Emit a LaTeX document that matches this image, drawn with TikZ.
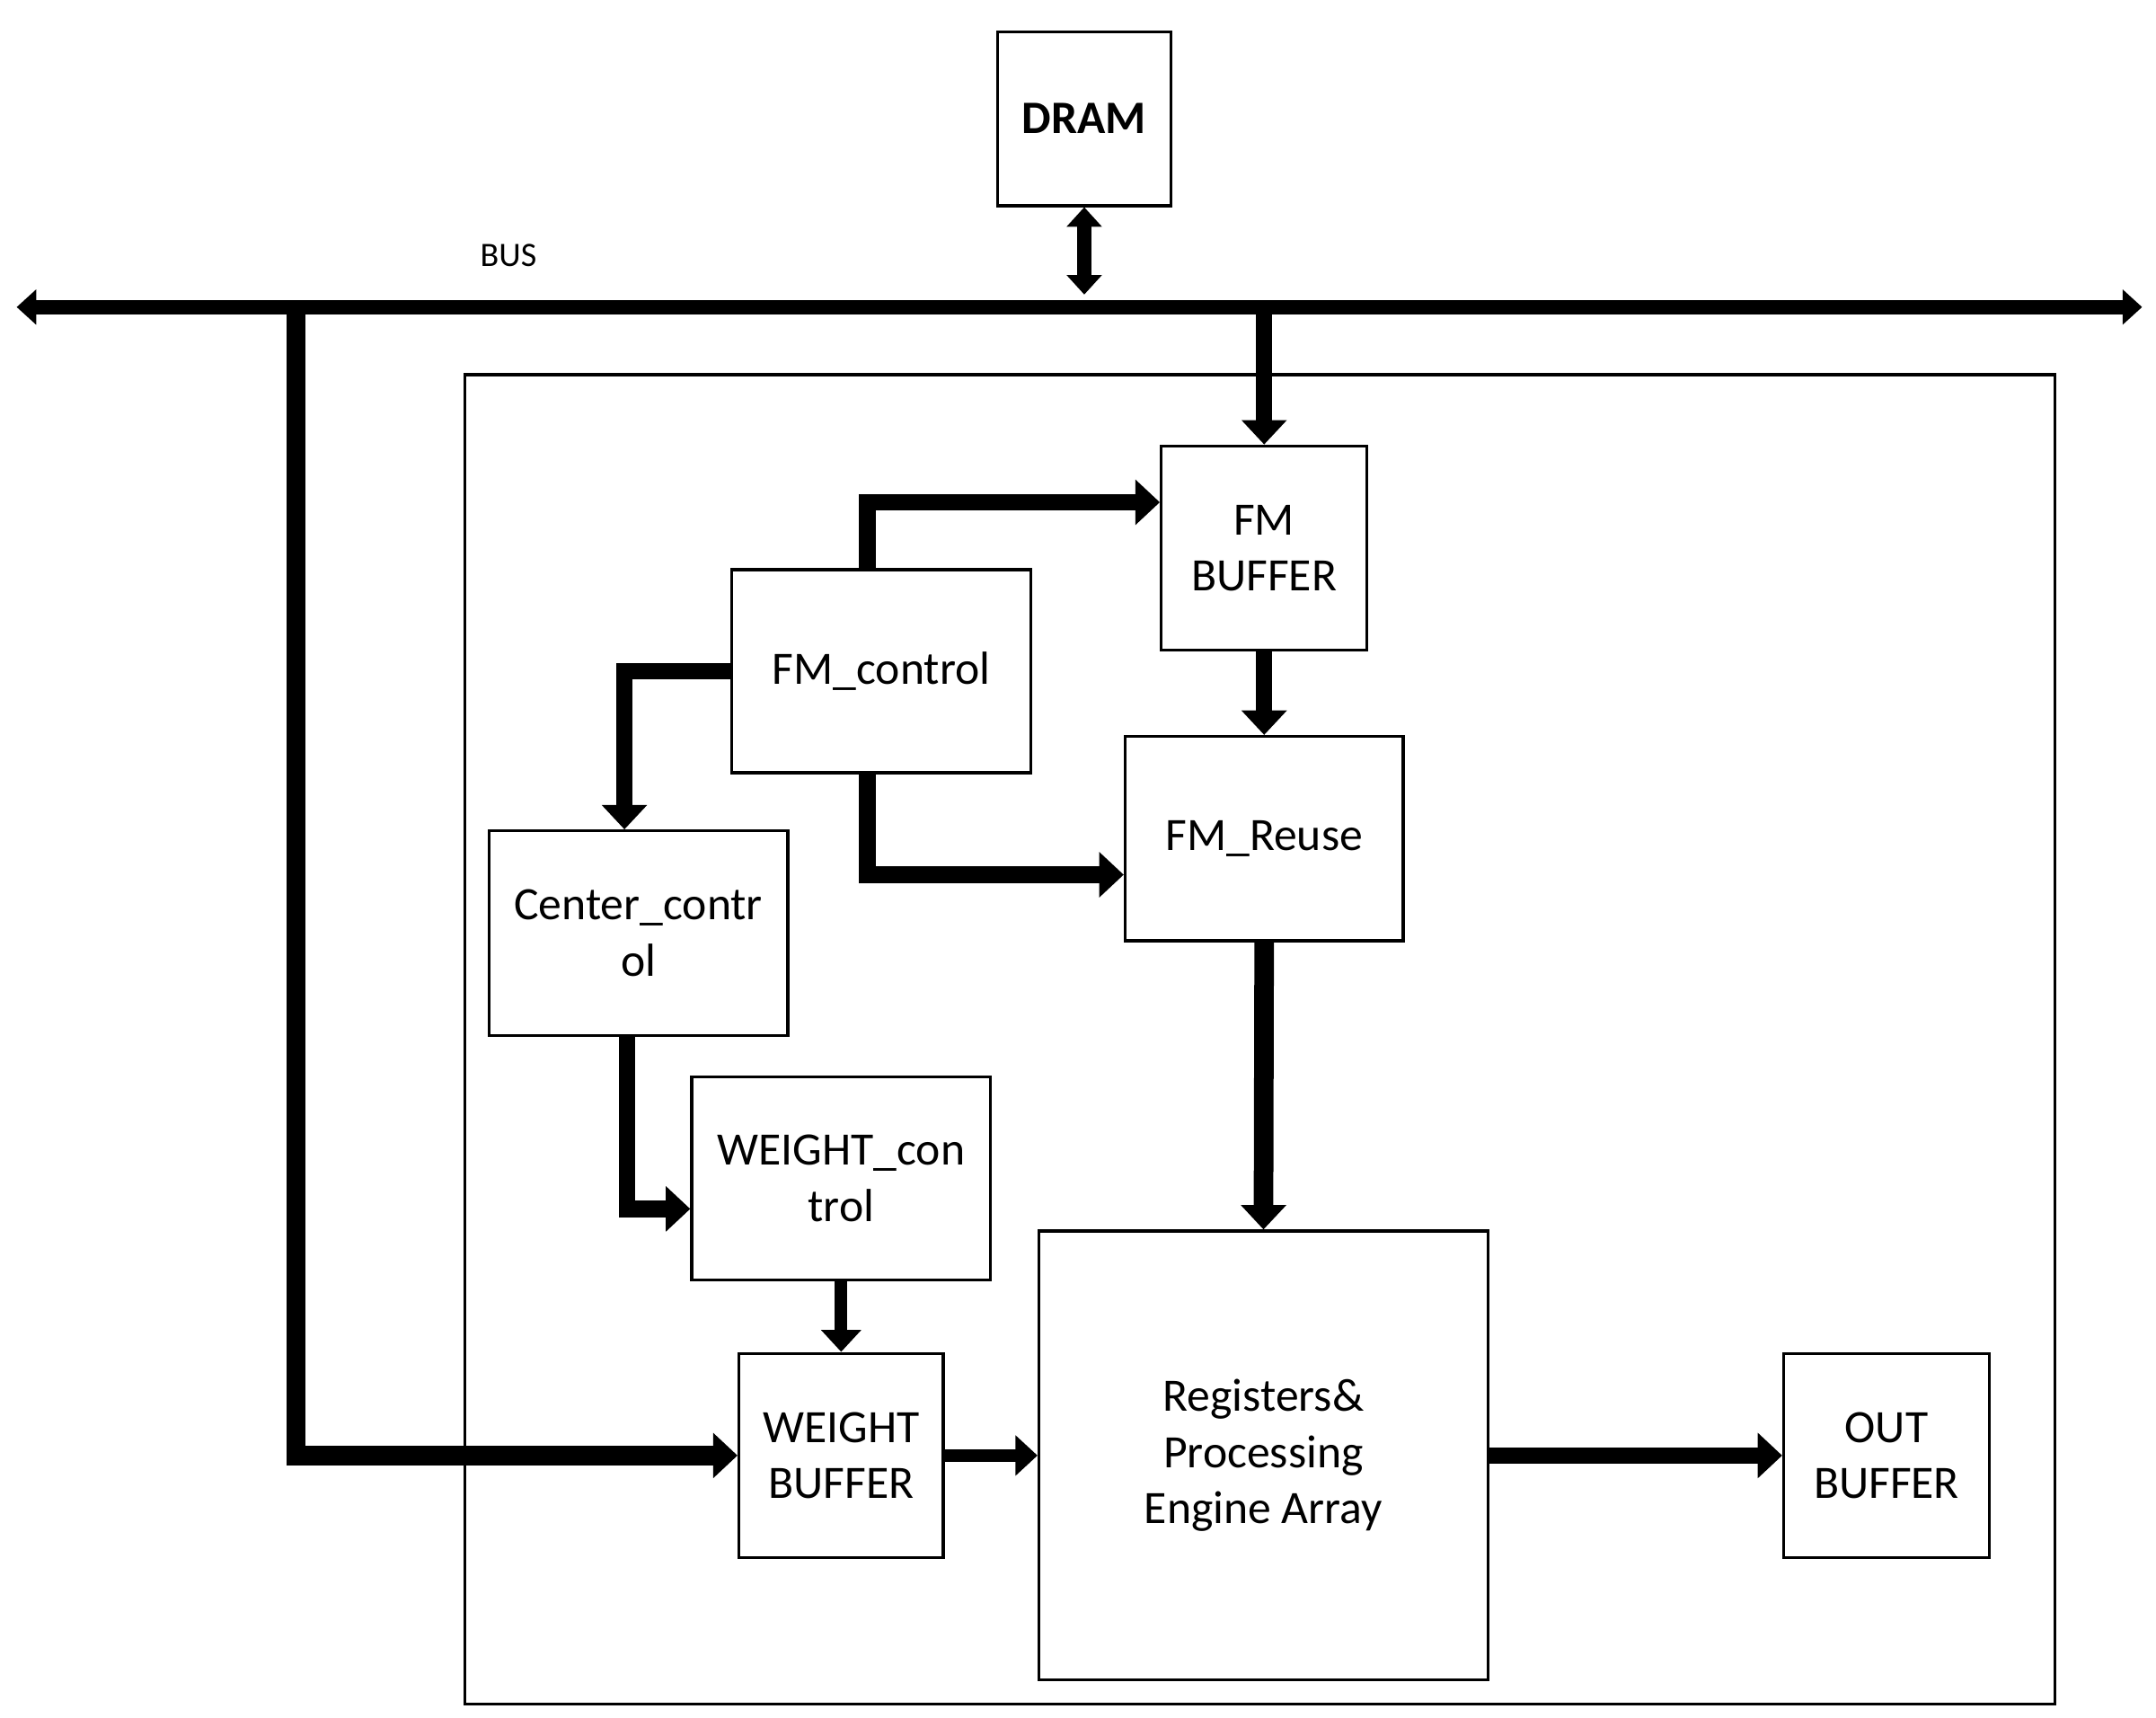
\documentclass[tikz,border=0pt]{standalone}
\usepackage{fontspec}
\setmainfont{Carlito}
\usetikzlibrary{arrows.meta}
\begin{document}
\begin{tikzpicture}[x=0.01cm,y=-0.01cm,
    box/.style={draw, line width=0.6pt, align=center, inner sep=0pt, font=\fontsize{9.5}{11.5}\selectfont},
    arr/.style={line width=3.4pt, -{Triangle[length=5pt,width=9pt]}},
    thinarr/.style={line width=2.6pt, -{Triangle[length=4.5pt,width=8pt]}},
    bus/.style={line width=3pt, {Triangle[length=4pt,width=7pt]}-{Triangle[length=4pt,width=7pt]}}
]
\useasboundingbox (0,0) rectangle (1552,1236);

% outer frame
\node[draw, line width=0.6pt, minimum width=11.44cm, minimum height=9.56cm, inner sep=0pt] (frame) at (907,748) {};

% blocks
\node[box, font=\fontsize{9.5}{11.5}\selectfont\bfseries, minimum width=1.25cm, minimum height=1.25cm] (dram) at (780.5,85.5) {DRAM};
\node[box, minimum width=1.48cm, minimum height=1.47cm] (fmb) at (910,394.5) {FM\\BUFFER};
\node[box, minimum width=2.15cm, minimum height=1.46cm] (fmc) at (634.5,483) {FM\_control};
\node[box, minimum width=2.15cm, minimum height=1.47cm] (cc) at (459.5,671.5) {Center\_contr\\ol};
\node[box, minimum width=2.00cm, minimum height=1.47cm] (fmr) at (910,603.5) {FM\_Reuse};
\node[box, minimum width=2.15cm, minimum height=1.46cm] (wc) at (605.5,848) {WEIGHT\_con\\trol};
\node[box, minimum width=1.47cm, minimum height=1.47cm] (wb) at (605.5,1047.5) {WEIGHT\\BUFFER};
\node[box, minimum width=3.23cm, minimum height=3.23cm] (reg) at (909.5,1047.5) {Registers\&\\Processing\\Engine Array};
\node[box, minimum width=1.48cm, minimum height=1.47cm] (ob) at (1358,1047.5) {OUT\\BUFFER};

% bus
\coordinate (busL) at (12,221);
\coordinate (busR) at (1542,221);
\coordinate (busT) at (213,221);
\node[font=\fontsize{7}{8}\selectfont] (buslabel) at (366,184) {BUS};
\draw[bus] (busL) -- (busR);
\draw[bus] (dram.south) -- (dram.south |- 0,212);

% connectors
\draw[arr] (fmb.north |- busL) -- (fmb.north);
\draw[arr, line width=4pt] (busT) |- (wb.west);
\draw[arr] ([xshift=-0.1cm]fmc.north) |- ([yshift=0.33cm]fmb.west);
\draw[arr] (fmc.west) -| ([xshift=-0.1cm]cc.north);
\draw[arr] ([xshift=-0.1cm]fmc.south) |- ([yshift=-0.26cm]fmr.west);
\draw[arr] ([xshift=-0.08cm]cc.south) |- ([yshift=-0.22cm]wc.west);
\draw[thinarr] (wc.south) -- (wb.north);
\draw[arr] (fmb.south) -- (fmr.north);
\draw[arr, line width=4pt] (fmr.south) -- (reg.north);
\draw[thinarr] (wb.east) -- (reg.west);
\draw[arr] (reg.east) -- (ob.west);
\end{tikzpicture}
\end{document}
